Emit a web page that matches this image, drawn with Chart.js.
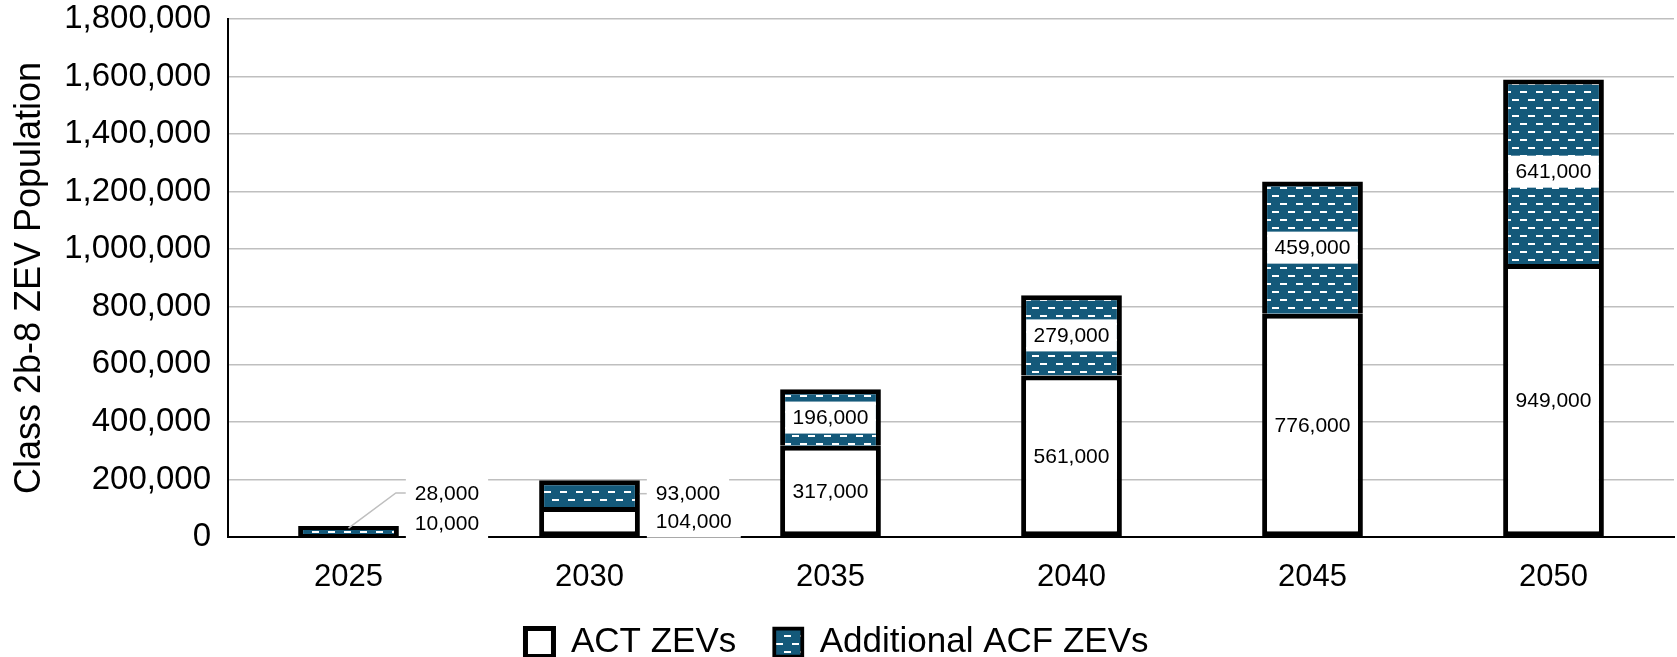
<!DOCTYPE html>
<html>
<head>
<meta charset="utf-8">
<script src="https://cdn.jsdelivr.net/npm/chart.js@4.4.0/dist/chart.umd.min.js"></script>
<style>
    html, body { margin: 0; padding: 0; background: #fff; }
</style>
</head>
<body>
<canvas id="chartZEV" width="1677" height="657"></canvas>
<script>
// data
var years = ['2025', '2030', '2035', '2040', '2045', '2050'];
var actZEVs = [10000, 104000, 317000, 561000, 776000, 949000];
var acfZEVs = [28000, 93000, 196000, 279000, 459000, 641000];
var yMax = 1800000;
var yStep = 200000;

var fontFamily = '"Liberation Sans", Arial, sans-serif';
Chart.defaults.font.family = fontFamily;
Chart.defaults.color = '#000';

var canvas = document.getElementById('chartZEV');
var ctx = canvas.getContext('2d');

// pola garis putus-putus untuk ACF
function makePattern() {
    var tile = document.createElement('canvas');
    tile.width = 16;
    tile.height = 16;
    var g = tile.getContext('2d');
    g.fillStyle = '#14597A';
    g.fillRect(0, 0, 16, 16);
    g.fillStyle = '#ffffff';
    g.fillRect(8, 3, 7, 2);
    g.fillRect(0, 11, 7, 2);
    return ctx.createPattern(tile, 'repeat');
}
var acfPattern = makePattern();

// label angka di atas / samping batang
var labelPlugin = {
    id: 'zevLabels',
    beforeInit: function (chart) {
        var legend = chart.legend;
        if (legend) {
            var fit = legend.fit;
            legend.fit = function () {
                fit.apply(this, arguments);
                this.height = 70;
            };
        }
    },
    afterDatasetsDraw: function (chart) {
        var c = chart.ctx;
        var metas = [chart.getDatasetMeta(0), chart.getDatasetMeta(1)];
        var values = [actZEVs, acfZEVs];
        c.save();
        c.font = '21px ' + fontFamily;
        c.textBaseline = 'middle';
        for (var i = 0; i < years.length; i++) {
            var prevY = null;
            for (var k = 0; k < 2; k++) {
                var bar = metas[k].data[i];
                var text = values[k][i].toLocaleString('en-US');
                var h = Math.abs(bar.base - bar.y);
                var cy = (bar.y + bar.base) / 2;
                var tw = c.measureText(text).width;
                var bh = 32;
                if (h >= 34) {
                    var bwIn = Math.min(tw + 24, bar.width - 10);
                    c.fillStyle = '#fff';
                    c.fillRect(bar.x - bwIn / 2, cy - bh / 2, bwIn, bh);
                    c.fillStyle = '#000';
                    c.textAlign = 'center';
                    c.fillText(text, bar.x, cy + 1);
                } else {
                    var bw = tw + 18;
                    var y = Math.min(cy, chart.chartArea.bottom - 14);
                    var moved = false;
                    if (prevY !== null && prevY - y < 26) {
                        y = prevY - 30;
                        moved = true;
                    }
                    var boxLeft = bar.x + bar.width / 2 + 7;
                    if (k === 1) {
                        c.strokeStyle = '#BFBFBF';
                        c.lineWidth = 1.5;
                        c.beginPath();
                        if (moved) {
                            c.moveTo(bar.x, bar.y + 2);
                            c.lineTo(boxLeft - 10, y);
                        } else {
                            c.moveTo(bar.x + bar.width / 2, y);
                        }
                        c.lineTo(boxLeft, y);
                        c.stroke();
                    }
                    c.fillStyle = '#fff';
                    c.fillRect(boxLeft, y - bh / 2, bw, bh);
                    c.fillStyle = '#000';
                    c.textAlign = 'left';
                    c.fillText(text, boxLeft + 9, y + 1);
                    prevY = y;
                }
            }
        }
        c.restore();
    }
};

var myChart = new Chart(ctx, {
    type: 'bar',
    data: {
        labels: years,
        datasets: [
            {
                label: 'ACT ZEVs',
                data: actZEVs,
                backgroundColor: '#ffffff',
                borderColor: '#000000',
                borderWidth: 5,
                borderSkipped: false
            },
            {
                label: 'Additional ACF ZEVs',
                data: acfZEVs,
                backgroundColor: acfPattern,
                borderColor: '#000000',
                borderWidth: { top: 5, left: 5, right: 5, bottom: 0 },
                borderSkipped: false
            }
        ]
    },
    options: {
        responsive: false,
        animation: false,
        devicePixelRatio: 1,
        layout: {
            padding: { top: 19, right: 3, left: 0, bottom: 0 }
        },
        datasets: {
            bar: { barPercentage: 0.418, categoryPercentage: 1 }
        },
        scales: {
            x: {
                stacked: true,
                grid: { display: false, drawTicks: false },
                border: { color: '#000', width: 2 },
                ticks: { color: '#000', font: { size: 31 }, padding: 22 },
                afterFit: function (scale) { scale.height = 50; }
            },
            y: {
                stacked: true,
                min: 0,
                max: yMax,
                ticks: {
                    stepSize: yStep,
                    color: '#000',
                    font: { size: 33 },
                    padding: 17,
                    callback: function (v) { return v.toLocaleString('en-US'); }
                },
                grid: { color: '#BFBFBF', lineWidth: 1.5, drawTicks: false },
                border: { color: '#000', width: 2 },
                title: {
                    display: true,
                    text: 'Class 2b-8 ZEV Population',
                    color: '#000',
                    font: { size: 36 },
                    padding: { top: 8, bottom: 0 }
                },
                afterFit: function (scale) {
                    scale.width = 228;
                    scale.paddingTop = 0;
                    scale.paddingBottom = 0;
                }
            }
        },
        plugins: {
            legend: {
                position: 'bottom',
                labels: {
                    color: '#000',
                    font: { size: 35 },
                    boxWidth: 28,
                    boxHeight: 28,
                    padding: 38
                }
            },
            tooltip: { enabled: false }
        }
    },
    plugins: [labelPlugin]
});
</script>
</body>
</html>
